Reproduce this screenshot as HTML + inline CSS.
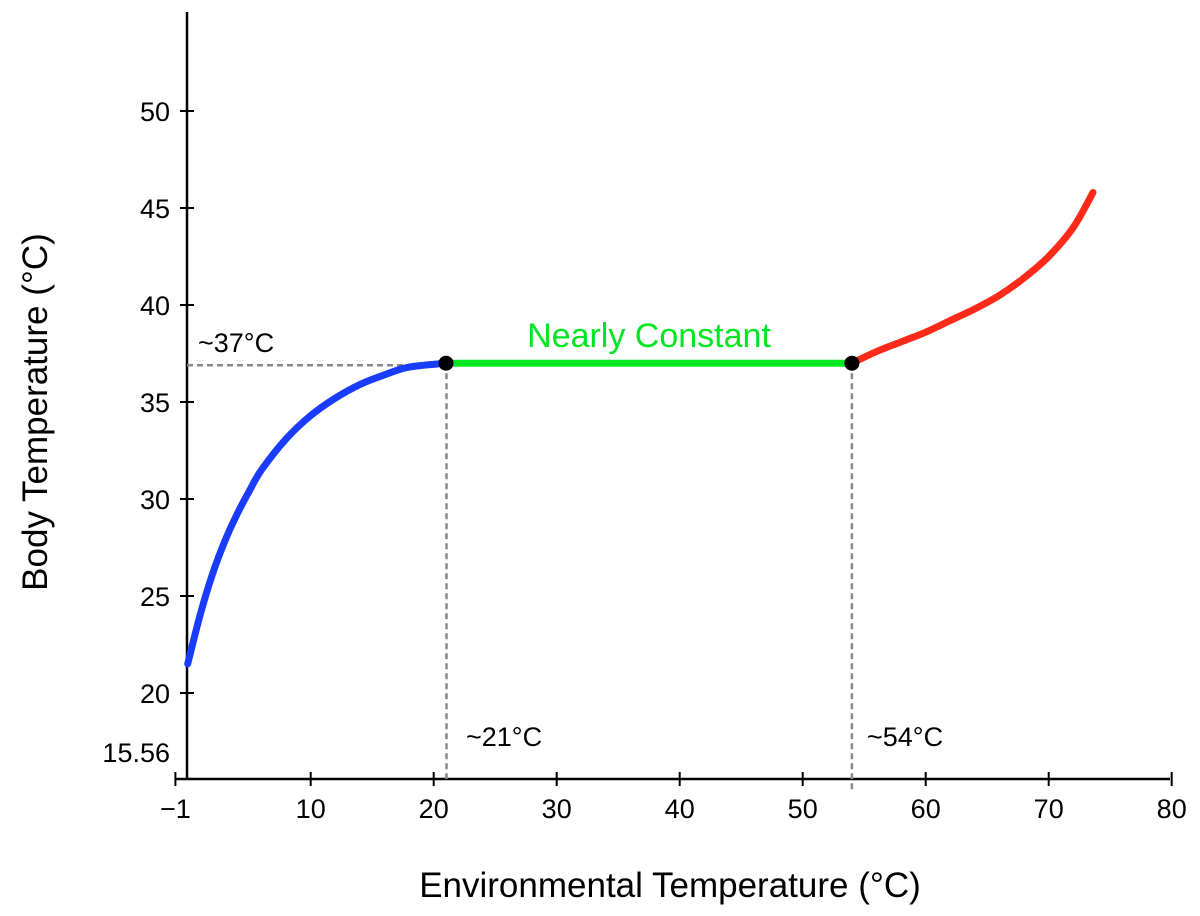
<!DOCTYPE html>
<html><head><meta charset="utf-8"><style>
html,body{margin:0;padding:0;background:#fff;}
svg{display:block;font-family:"Liberation Sans",sans-serif;}
</style></head><body>
<svg id="chart" width="1200" height="916"></svg>
<script>
const xTicks=[-1,10,20,30,40,50,60,70,80];
const yTicks=[15.56,20,25,30,35,40,45,50];
const blueX=[0,1,2,3,4,5,6,8,10,12,14,16,18,21];
const blueY=[21.5,24.0,26.1,27.8,29.2,30.4,31.5,33.1,34.3,35.2,35.9,36.4,36.8,37.0];
const greenX=[21,54];
const greenY=[37,37];
const redX=[54,56,58,60,62,64,66,68,70,72,73.6];
const redY=[37,37.6,38.1,38.6,39.2,39.8,40.5,41.4,42.5,44.0,45.8];
const markerX=[21,54];
const markerY=[37,37];

const NS="http://www.w3.org/2000/svg";
const svg=document.getElementById('chart');
const sx=v=>187.7+v*12.3;
const sy=v=>693-(v-20)*19.4;
function el(t,a,txt){const e=document.createElementNS(NS,t);for(const k in a)e.setAttribute(k,a[k]);if(txt!==undefined)e.textContent=txt;svg.appendChild(e);return e;}

let e;
e=el('line',{x1:187,y1:12,x2:187,y2:779,stroke:'#000','stroke-width':2.5});


e=el('line',{x1:175,y1:779,x2:1170,y2:779,stroke:'#000','stroke-width':2.5});



xTicks.forEach(v=>{
  const x=sx(v);
  e=el('line',{x1:x,y1:772,x2:x,y2:786,stroke:'#000','stroke-width':2});
  
  
  e=el('text',{x:x,y:818,'font-size':27,'text-anchor':'middle'},v<0?'\u2212'+Math.abs(v):String(v));
  
  
});
yTicks.forEach(v=>{
  if(v!==15.56){
    e=el('line',{x1:180,y1:sy(v),x2:194,y2:sy(v),stroke:'#000','stroke-width':2});
    
    
  }
  const yy=v===15.56?762:sy(v)+10;
  e=el('text',{x:170,y:yy,'font-size':27,'text-anchor':'end'},String(v));
  
  
});

e=el('line',{x1:187,y1:sy(37)+2,x2:sx(21),y2:sy(37)+2,stroke:'#888','stroke-width':2.5,'stroke-dasharray':'6,4'});


e=el('line',{x1:sx(21)+0.5,y1:sy(37),x2:sx(21)+0.5,y2:779,stroke:'#888','stroke-width':2.5,'stroke-dasharray':'6,4'});


e=el('line',{x1:sx(54),y1:sy(37),x2:sx(54),y2:790,stroke:'#888','stroke-width':2.5,'stroke-dasharray':'6,4'});



function smooth(xs,ys){
  const p=xs.map((x,i)=>[sx(x),sy(ys[i])]);
  let d='M'+p[0][0]+','+p[0][1];
  for(let i=0;i<p.length-1;i++){
    const p0=p[i-1]||p[i],p1=p[i],p2=p[i+1],p3=p[i+2]||p2;
    const c1=[p1[0]+(p2[0]-p0[0])/6,p1[1]+(p2[1]-p0[1])/6];
    const c2=[p2[0]-(p3[0]-p1[0])/6,p2[1]-(p3[1]-p1[1])/6];
    d+=`C${c1[0]},${c1[1]} ${c2[0]},${c2[1]} ${p2[0]},${p2[1]}`;
  }
  return d;
}
e=el('path',{d:smooth(blueX,blueY),fill:'none',stroke:'#1a3cff','stroke-width':7,'stroke-linecap':'round'});


e=el('path',{d:smooth(greenX,greenY),fill:'none',stroke:'#00e620','stroke-width':7});


e=el('path',{d:smooth(redX,redY),fill:'none',stroke:'#ff2a1a','stroke-width':7,'stroke-linecap':'round'});


markerX.forEach((x,i)=>{
  e=el('circle',{cx:sx(x),cy:sy(markerY[i]),r:7.5,fill:'#000'});
  
  
});

e=el('text',{x:649,y:347,'font-size':34,fill:'#00e620','text-anchor':'middle'},'Nearly Constant');


e=el('text',{x:198,y:352,'font-size':27},'~37°C');


e=el('text',{x:466,y:746,'font-size':27},'~21°C');


e=el('text',{x:867,y:746,'font-size':27},'~54°C');


e=el('text',{x:670,y:897,'font-size':35,'text-anchor':'middle'},'Environmental Temperature (°C)');


e=el('text',{x:0,y:0,'font-size':35,'text-anchor':'middle',transform:'translate(47,412) rotate(-90)'},'Body Temperature (°C)');


</script>
</body></html>
